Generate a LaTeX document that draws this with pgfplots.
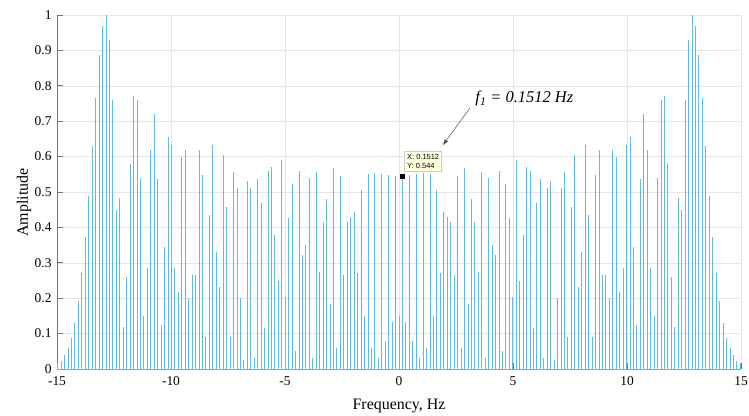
\documentclass[border=0pt]{standalone}
\usepackage{fontspec}
\setmainfont{Liberation Serif}
\newfontfamily\tipfont{Liberation Sans}
\usepackage{pgfplots}
\pgfplotsset{compat=1.18}
\usepackage{pgfplotstable}
\usetikzlibrary{arrows.meta}
\definecolor{specblue}{RGB}{96,186,222}
\definecolor{tipbg}{RGB}{255,255,225}

% Line spectrum: harmonics of f1 = 0.1512 Hz (frequency in Hz, amplitude)
\pgfplotstableread{
f a
-14.9688 0.018
-14.8176 0.024
-14.6664 0.040
-14.5152 0.060
-14.3640 0.088
-14.2128 0.130
-14.0616 0.193
-13.9104 0.272
-13.7592 0.373
-13.6080 0.490
-13.4568 0.630
-13.3056 0.765
-13.1544 0.887
-13.0032 0.970
-12.8520 1.000
-12.7008 0.930
-12.5496 0.760
-12.3984 0.450
-12.2472 0.483
-12.0960 0.120
-11.9448 0.260
-11.7936 0.580
-11.6424 0.770
-11.4912 0.760
-11.3400 0.540
-11.1888 0.150
-11.0376 0.284
-10.8864 0.620
-10.7352 0.720
-10.5840 0.538
-10.4328 0.124
-10.2816 0.346
-10.1304 0.654
-9.9792 0.633
-9.8280 0.284
-9.6768 0.218
-9.5256 0.600
-9.3744 0.620
-9.2232 0.200
-9.0720 0.265
-8.9208 0.265
-8.7696 0.620
-8.6184 0.548
-8.4672 0.090
-8.3160 0.435
-8.1648 0.633
-8.0136 0.330
-7.8624 0.233
-7.7112 0.604
-7.5600 0.458
-7.4088 0.090
-7.2576 0.557
-7.1064 0.510
-6.9552 0.200
-6.8040 0.025
-6.6528 0.530
-6.5016 0.510
-6.3504 0.030
-6.1992 0.538
-6.0480 0.470
-5.8968 0.115
-5.7456 0.560
-5.5944 0.571
-5.4432 0.378
-5.2920 0.250
-5.1408 0.590
-4.9896 0.204
-4.8384 0.426
-4.6872 0.524
-4.5360 0.050
-4.3848 0.560
-4.2336 0.322
-4.0824 0.350
-3.9312 0.540
-3.7800 0.030
-3.6288 0.557
-3.4776 0.275
-3.3264 0.416
-3.1752 0.480
-3.0240 0.185
-2.8728 0.567
-2.7216 0.060
-2.5704 0.544
-2.4192 0.265
-2.2680 0.416
-2.1168 0.430
-1.9656 0.444
-1.8144 0.270
-1.6632 0.505
-1.5120 0.150
-1.3608 0.550
-1.2096 0.060
-1.0584 0.555
-0.9072 0.030
-0.7560 0.550
-0.6048 0.080
-0.4536 0.548
-0.3024 0.134
-0.1512 0.544
0.0000 0.150
0.1512 0.544
0.3024 0.134
0.4536 0.548
0.6048 0.080
0.7560 0.550
0.9072 0.030
1.0584 0.555
1.2096 0.060
1.3608 0.550
1.5120 0.150
1.6632 0.505
1.8144 0.270
1.9656 0.444
2.1168 0.430
2.2680 0.416
2.4192 0.265
2.5704 0.544
2.7216 0.060
2.8728 0.567
3.0240 0.185
3.1752 0.480
3.3264 0.416
3.4776 0.275
3.6288 0.557
3.7800 0.030
3.9312 0.540
4.0824 0.350
4.2336 0.322
4.3848 0.560
4.5360 0.050
4.6872 0.524
4.8384 0.426
4.9896 0.204
5.1408 0.590
5.2920 0.250
5.4432 0.378
5.5944 0.571
5.7456 0.560
5.8968 0.115
6.0480 0.470
6.1992 0.538
6.3504 0.030
6.5016 0.510
6.6528 0.530
6.8040 0.025
6.9552 0.200
7.1064 0.510
7.2576 0.557
7.4088 0.090
7.5600 0.458
7.7112 0.604
7.8624 0.233
8.0136 0.330
8.1648 0.633
8.3160 0.435
8.4672 0.090
8.6184 0.548
8.7696 0.620
8.9208 0.265
9.0720 0.265
9.2232 0.200
9.3744 0.620
9.5256 0.600
9.6768 0.218
9.8280 0.284
9.9792 0.633
10.1304 0.654
10.2816 0.346
10.4328 0.124
10.5840 0.538
10.7352 0.720
10.8864 0.620
11.0376 0.284
11.1888 0.150
11.3400 0.540
11.4912 0.760
11.6424 0.770
11.7936 0.580
11.9448 0.260
12.0960 0.120
12.2472 0.483
12.3984 0.450
12.5496 0.760
12.7008 0.930
12.8520 1.000
13.0032 0.970
13.1544 0.887
13.3056 0.765
13.4568 0.630
13.6080 0.490
13.7592 0.373
13.9104 0.272
14.0616 0.193
14.2128 0.130
14.3640 0.088
14.5152 0.060
14.6664 0.040
14.8176 0.024
14.9688 0.018
}\spectrum

\begin{document}
\begin{tikzpicture}
\begin{axis}[
  at={(0,0)}, anchor=south west,
  scale only axis, width=684bp, height=354bp,
  xmin=-15, xmax=15, ymin=0, ymax=1,
  xtick={-15,-10,-5,0,5,10,15},
  xticklabels={-15,-10,-5,0,5,10,15},
  ytick={0,0.1,0.2,0.3,0.4,0.5,0.6,0.7,0.8,0.9,1},
  yticklabels={0,0.1,0.2,0.3,0.4,0.5,0.6,0.7,0.8,0.9,1},
  axis x line*=bottom, axis y line*=left,
  grid=major, major grid style={black!10, line width=0.5bp},
  tick align=inside, major tick length=6bp,
  axis line style={black!55, line width=0.6bp},
  tick style={black!55, line width=0.6bp},
  tick label style={font=\fontsize{13.5}{16}\selectfont},
  xticklabel style={anchor=base, yshift=-16.5bp},
  yticklabel style={anchor=east, xshift=-2bp},
  xlabel={Frequency, Hz},
  ylabel={Amplitude},
  label style={font=\fontsize{16}{19}\selectfont},
  xlabel style={at={(axis description cs:0.5,-0.113)}, anchor=base},
  ylabel style={at={(axis description cs:-0.0424,0.47)}, anchor=base},
  clip=false,
]
\addplot[ycomb, specblue, line width=0.9bp, no markers] table[x=f, y=a] {\spectrum};
\addplot[specblue, line width=0.9bp, no markers] coordinates {(-15,0) (15,0)};
\addplot[only marks, mark=square*, mark size=2.2bp, black] coordinates {(0.1512,0.544)};

% data tip
\node[anchor=south west, fill=tipbg, draw=black!20, line width=0.4bp,
      inner xsep=2.5bp, inner ysep=2.5bp, align=left,
      font=\tipfont\fontsize{7.5}{9.5}\selectfont, xshift=2bp, yshift=5bp]
  at (axis cs:0.1512,0.544) {X: 0.1512\\Y: 0.544};

% annotation
\draw[-{Latex[length=6bp,width=4bp]}, black!70, line width=0.5bp]
  (axis cs:3.11,0.737) -- (axis cs:1.92,0.632);
\node[anchor=base west, font=\fontsize{16.5}{19}\selectfont\itshape]
  at (axis cs:3.2,0.752) {f\textsubscript{1} = 0.1512 Hz};
\end{axis}
\pgfresetboundingbox
\path[use as bounding box] (-57bp,-47bp) rectangle (692bp,369bp);
\end{tikzpicture}
\end{document}
